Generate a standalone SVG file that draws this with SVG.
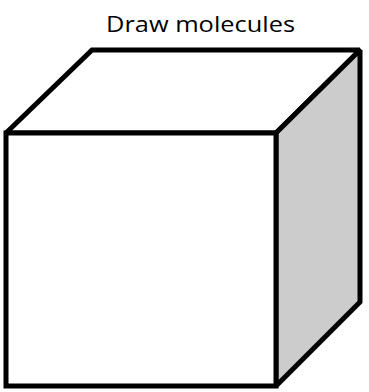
<svg xmlns="http://www.w3.org/2000/svg" width="369" height="392" viewBox="0 0 369 392">
<style>
.face{stroke:#000;stroke-width:5;stroke-linejoin:miter;stroke-miterlimit:2}
.t{font-family:"Open Sans","Liberation Sans",sans-serif;font-size:22px;fill:#000}
</style>
<rect width="369" height="392" fill="#fff"/>
<g id="title"><text class="t" x="200.5" y="32" text-anchor="middle" textLength="189" lengthAdjust="spacingAndGlyphs">Draw molecules</text></g>
<g id="cube">
<polygon id="top" class="face" fill="#fff" points="6,133 92,50 360,50 276,133"/>
<polygon id="right" class="face" fill="#cccccc" points="276,133 360,50 360,302 276,386"/>
<rect id="front" class="face" fill="#fff" x="6" y="133" width="270" height="253"/>
</g>
</svg>
